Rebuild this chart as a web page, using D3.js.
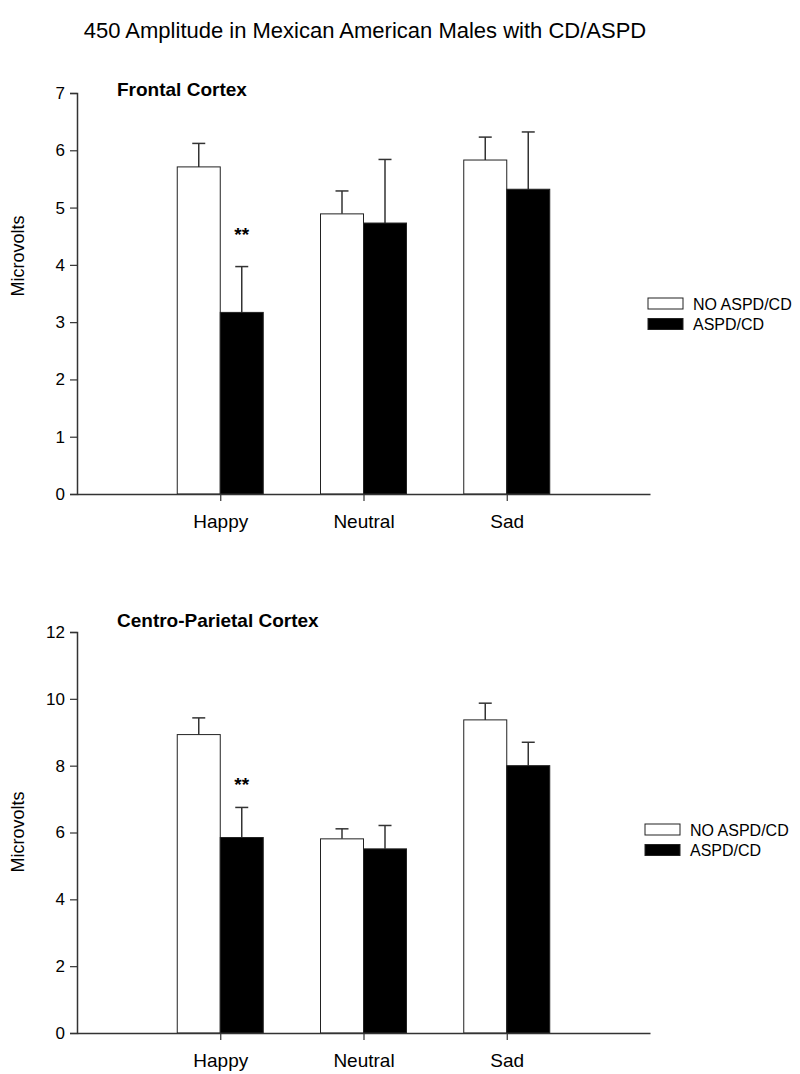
<!DOCTYPE html>
<html><head><meta charset="utf-8">
<script src="https://cdn.jsdelivr.net/npm/d3@7"></script>
<style>body{margin:0;background:#fff}svg{display:block}text{font-family:Arial,"Liberation Sans",sans-serif;fill:#000}</style>
</head><body><svg id="c" width="800" height="1074"></svg>
<script>
const chartTitle = "450 Amplitude in Mexican American Males with CD/ASPD";
const categories = ["Happy", "Neutral", "Sad"];
const seriesNames = ["NO ASPD/CD", "ASPD/CD"];
const seriesColors = ["#ffffff", "#000000"];
const panelTitles = ["Frontal Cortex", "Centro-Parietal Cortex"];
const yLabel = "Microvolts";
// Frontal cortex means and upper error (mean + SE)
const frontalNo = [5.71, 4.89, 5.83];
const frontalNoErr = [6.12, 5.29, 6.23];
const frontalYes = [3.17, 4.73, 5.32];
const frontalYesErr = [3.97, 5.84, 6.32];
// Centro-parietal cortex
const parietalNo = [8.93, 5.81, 9.37];
const parietalNoErr = [9.43, 6.11, 9.87];
const parietalYes = [5.85, 5.51, 8.00];
const parietalYesErr = [6.75, 6.21, 8.70];
const frontalTicks = [0, 1, 2, 3, 4, 5, 6, 7];
const parietalTicks = [0, 2, 4, 6, 8, 10, 12];
const sigMarks = [{cat: "Happy", series: 1, text: "**", frontalY: 4.42, parietalY: 7.23}];

const svg = d3.select("#c");
svg.append("text").attr("x", 365).attr("y", 38).attr("text-anchor", "middle")
  .style("font-size", "22px").text(chartTitle);

const panels = [
  {title: panelTitles[0], no: frontalNo, noE: frontalNoErr, yes: frontalYes, yesE: frontalYesErr,
   ticks: frontalTicks, max: 7, top: 93, bottom: 494, titleY: 96, labelY: 256, sigKey: "frontalY",
   legendX: 648, legendY: 298},
  {title: panelTitles[1], no: parietalNo, noE: parietalNoErr, yes: parietalYes, yesE: parietalYesErr,
   ticks: parietalTicks, max: 12, top: 632, bottom: 1033, titleY: 627, labelY: 832, sigKey: "parietalY",
   legendX: 645, legendY: 824}
];

const axisColor = "#333";
panels.forEach(p => {
  const g = svg.append("g");
  const x = d3.scalePoint().domain(categories).range([77, 650]).padding(1);
  const inner = d3.scaleBand().domain(seriesNames).range([-43, 43]);
  const y = d3.scaleLinear().domain([0, p.max]).range([p.bottom, p.top]);

  const data = [];
  categories.forEach((c, i) => {
    data.push({cat: c, s: 0, v: p.no[i], e: p.noE[i]});
    data.push({cat: c, s: 1, v: p.yes[i], e: p.yesE[i]});
  });

  // error bars (upper only)
  const eb = g.selectAll(".eb").data(data).enter().append("g");
  eb.append("line")
    .attr("x1", d => x(d.cat) + inner(seriesNames[d.s]) + inner.bandwidth() / 2)
    .attr("x2", d => x(d.cat) + inner(seriesNames[d.s]) + inner.bandwidth() / 2)
    .attr("y1", d => y(d.v)).attr("y2", d => y(d.e))
    .attr("stroke", axisColor).attr("stroke-width", 1.5);
  eb.append("line")
    .attr("x1", d => x(d.cat) + inner(seriesNames[d.s]) + inner.bandwidth() / 2 - 6.5)
    .attr("x2", d => x(d.cat) + inner(seriesNames[d.s]) + inner.bandwidth() / 2 + 6.5)
    .attr("y1", d => y(d.e)).attr("y2", d => y(d.e))
    .attr("stroke", axisColor).attr("stroke-width", 1.5);

  g.selectAll(".bar").data(data).enter().append("rect")
    .attr("x", d => x(d.cat) + inner(seriesNames[d.s]))
    .attr("width", inner.bandwidth())
    .attr("y", d => y(d.v))
    .attr("height", d => y(0) - y(d.v))
    .attr("fill", d => seriesColors[d.s])
    .attr("stroke", "#222").attr("stroke-width", 1);

  // y axis
  const ya = g.append("g").attr("transform", "translate(77,0)")
    .call(d3.axisLeft(y).tickValues(p.ticks).tickSize(7).tickPadding(5).tickFormat(d3.format("d")));
  ya.select(".domain").attr("stroke", axisColor).attr("stroke-width", 1.5);
  ya.selectAll(".tick line").attr("stroke", axisColor).attr("stroke-width", 1.2);
  ya.selectAll(".tick text").style("font-size", "17px").style("font-family", "Arial,'Liberation Sans',sans-serif").attr("fill", "#000");

  // x axis
  const xa = g.append("g").attr("transform", `translate(0,${p.bottom})`)
    .call(d3.axisBottom(x).tickSize(7).tickPadding(14).tickSizeOuter(0));
  xa.select(".domain").attr("stroke", axisColor).attr("stroke-width", 1.5);
  xa.selectAll(".tick line").attr("stroke", axisColor).attr("stroke-width", 1.2);
  xa.selectAll(".tick text").style("font-size", "19px").style("font-family", "Arial,'Liberation Sans',sans-serif").attr("fill", "#000");

  // panel title
  g.append("text").attr("x", 117).attr("y", p.titleY)
    .style("font-size", "19px").style("font-weight", "bold").text(p.title);

  // y label
  g.append("text").attr("transform", `translate(24,${p.labelY}) rotate(-90)`)
    .attr("text-anchor", "middle").style("font-size", "18px").text(yLabel);

  // significance marks
  sigMarks.forEach(m => {
    g.append("text")
      .attr("x", x(m.cat) + inner(seriesNames[m.series]) + inner.bandwidth() / 2)
      .attr("y", y(m[p.sigKey])).attr("text-anchor", "middle")
      .style("font-size", "19px").style("font-weight", "bold").text(m.text);
  });

  // legend
  const lg = g.append("g").attr("transform", `translate(${p.legendX},${p.legendY})`);
  seriesNames.forEach((s, i) => {
    lg.append("rect").attr("x", 0).attr("y", i * 20.5).attr("width", 35).attr("height", 11)
      .attr("fill", seriesColors[i]).attr("stroke", "#222").attr("stroke-width", 1);
    lg.append("text").attr("x", 45).attr("y", i * 20.5 + 11.5)
      .style("font-size", "16px").text(s);
  });
});
</script></body></html>
